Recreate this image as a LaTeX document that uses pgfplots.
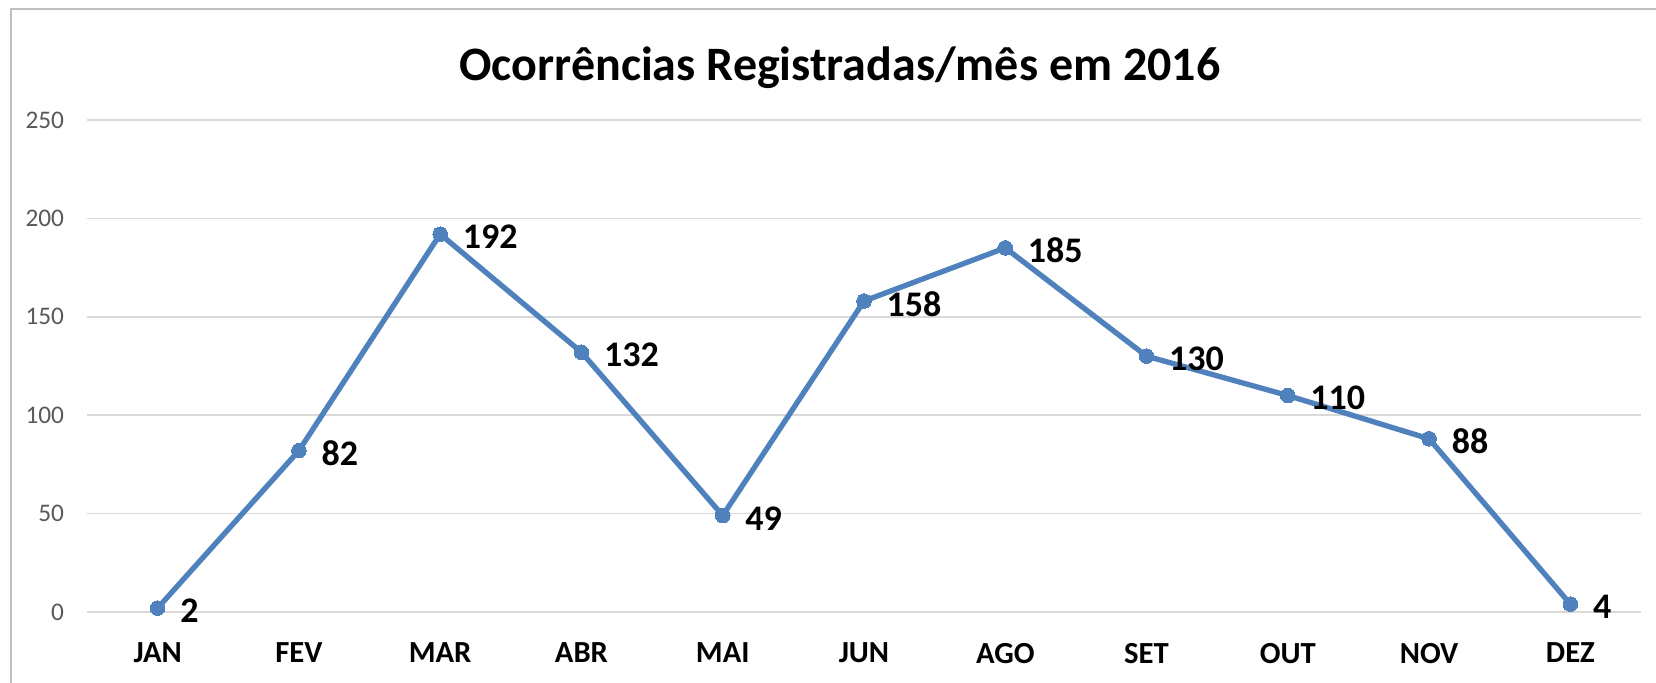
\documentclass[border=0pt]{standalone}
\usepackage{fontspec}
\setmainfont{Carlito}
\usepackage{pgfplots}
\pgfplotsset{compat=1.18}
\definecolor{serie}{HTML}{4F81BD}
\definecolor{gridc}{HTML}{D9D9D9}
\definecolor{tickc}{HTML}{595959}
\definecolor{framec}{HTML}{BFBFBF}
\begin{document}
\begin{tikzpicture}
\useasboundingbox (0,0) rectangle (1242pt,511.5pt);
\draw[framec, line width=1.6pt] (8.25pt,-5pt) -- (8.25pt,504.75pt) -- (1250pt,504.75pt);
\node[anchor=base, font=\bfseries\fontsize{36}{39}\selectfont, inner sep=0pt] at (630pt,451pt) {Ocorrências Registradas/mês em 2016};
\begin{axis}[
  at={(65.25pt,52.5pt)}, anchor=south west,
  scale only axis, width=1165.5pt, height=369pt,
  xmin=-0.5, xmax=10.5, ymin=0, ymax=250,
  xtick={0,...,10},
  xticklabels={JAN,FEV,MAR,ABR,MAI,JUN,AGO,SET,OUT,NOV,DEZ},
  ytick={0,50,100,150,200,250},
  ymajorgrids, grid style={gridc, line width=1.1pt},
  axis line style={draw=none},
  major tick length=0pt,
  clip=false,
  /pgf/number format/assume math mode=true,
  yticklabel style={anchor=east, inner sep=0pt, xshift=-17pt, font=\fontsize{19}{21}\selectfont, text=tickc},
  xticklabel style={anchor=north, inner sep=0pt, yshift=-23pt, font=\bfseries\fontsize{23}{25}\selectfont, text=black},
  nodes near coords,
  every node near coord/.append style={anchor=west, inner sep=0pt, xshift=17pt, yshift=-2pt, font=\bfseries\fontsize{27}{29}\selectfont, text=black},
]
\addplot[serie, line width=4pt, mark=*, mark size=5.5pt, mark options={fill=serie, draw=serie, line width=0pt}] coordinates {
(0,2) (1,82) (2,192) (3,132) (4,49) (5,158) (6,185) (7,130) (8,110) (9,88) (10,4)
};
\end{axis}
\end{tikzpicture}
\end{document}
